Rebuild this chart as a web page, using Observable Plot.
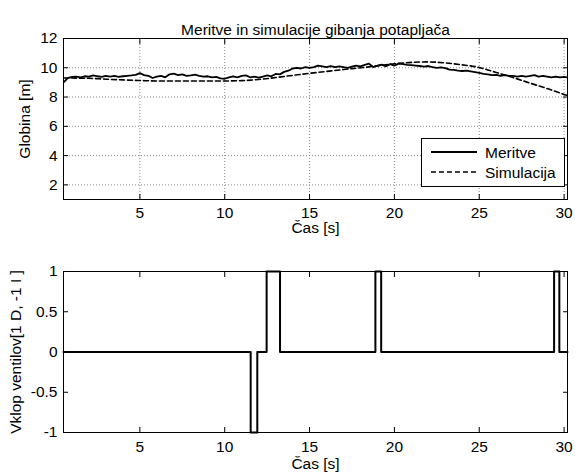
<!DOCTYPE html>
<html><head><meta charset="utf-8">
<script src="https://cdn.jsdelivr.net/npm/d3@7"></script>
<script src="https://cdn.jsdelivr.net/npm/@observablehq/plot@0.6"></script>
<style>
body{margin:0;background:#fff;}
#c{width:575px;}
svg{display:block}
#c svg text{font-size:15.5px !important; font-family:'Liberation Sans', Arial, Helvetica, sans-serif !important;}
</style>
</head><body><div id="c"></div>
<script>
const title = "Meritve in simulacije gibanja potapljača";
const xLabel = "Čas [s]";
const yLabelTop = "Globina [m]";
const yLabelBot = "Vklop ventilov[1 D, -1 I ]";
const legendLabels = ["Meritve", "Simulacija"];
const xTicks = [5, 10, 15, 20, 25, 30];
const yTicksTop = [2, 4, 6, 8, 10, 12];
const yTicksBot = [-1, -0.5, 0, 0.5, 1];

// measured depth, sampled every 0.25 s from 0.5 s
const measStart = 0.5, measStep = 0.25;
const meritve = [
  9.0, 9.3, 9.38,
  9.4, 9.35, 9.42, 9.4, 9.48, 9.42, 9.38, 9.45,
  9.4, 9.45, 9.38, 9.42, 9.45, 9.48, 9.52, 9.63,
  9.5, 9.45, 9.3, 9.4, 9.45, 9.35, 9.55, 9.6,
  9.5, 9.55, 9.45, 9.48, 9.53, 9.45, 9.4, 9.42,
  9.35, 9.38, 9.28, 9.25, 9.35, 9.42, 9.35, 9.45,
  9.48, 9.35, 9.4, 9.33, 9.4, 9.48, 9.42, 9.58,
  9.55, 9.72, 9.8, 9.95, 10.0, 9.95, 10.05, 10.0,
  10.05, 10.15, 10.1, 10.05, 10.12, 10.05, 10.1, 10.05,
  10.0, 10.08, 10.15, 10.1, 10.2, 10.28, 10.05, 10.15,
  10.22, 10.1, 10.25, 10.15, 10.28, 10.25, 10.2, 10.18,
  10.15, 10.12, 10.08, 10.12, 10.05, 10.0, 10.03, 9.98,
  9.88, 9.85, 9.8, 9.78, 9.8, 9.75, 9.7, 9.65,
  9.58, 9.55, 9.5, 9.52, 9.45, 9.5, 9.45, 9.45,
  9.4, 9.45, 9.4, 9.45, 9.5, 9.4, 9.45, 9.4,
  9.35, 9.4, 9.35, 9.38, 9.33
];
const simT = [0.5, 2, 3, 4, 5, 6, 7, 8, 9, 10, 11, 12, 13, 14, 15, 16, 17, 18, 19, 20, 21, 22, 23, 24, 25, 26, 27, 28, 29, 30, 30.2];
const simV = [9.3, 9.28, 9.22, 9.17, 9.13, 9.1, 9.1, 9.1, 9.1, 9.1, 9.12, 9.2, 9.33, 9.48, 9.62, 9.75, 9.88, 10.0, 10.13, 10.27, 10.37, 10.4, 10.33, 10.2, 10.02, 9.68, 9.33, 8.95, 8.58, 8.18, 8.1];
const pulseT = [0.5, 11.53, 11.92, 12.47, 13.26, 18.88, 19.22, 29.41, 29.72, 30.2];
const pulseV = [0, -1, 0, 1, 0, 1, 0, 1, 0, 0];

const measData = meritve.map((v, i) => ({t: measStart + i * measStep, v}));
const simData = simT.map((t, i) => ({t, v: simV[i]}));
const pulseData = pulseT.map((t, i) => ({t, v: pulseV[i]}));

const font = "'Liberation Sans', Arial, Helvetica, sans-serif";
const FS = 15.5;
const style = {fontFamily: font, fontSize: FS + "px", color: "black", background: "white", overflow: "visible"};
const xDomain = [0.5, 30.2];
const blank = () => "";

function boxAxes(yTicks, fmt, pad) {
  return [
    Plot.axisX(xTicks, {anchor: "bottom", tickSize: -5, tickPadding: pad, label: null, fontSize: FS}),
    Plot.axisX(xTicks, {anchor: "top", tickSize: -5, tickFormat: blank, label: null}),
    Plot.axisY(yTicks, {anchor: "left", tickSize: -5, tickPadding: 11, label: null, fontSize: FS, tickFormat: fmt}),
    Plot.axisY(yTicks, {anchor: "right", tickSize: -5, tickFormat: blank, label: null}),
  ];
}

const topChart = Plot.plot({
  width: 575, height: 240,
  marginLeft: 63, marginRight: 8, marginTop: 38, marginBottom: 41,
  style,
  x: {domain: xDomain},
  y: {domain: [1, 12]},
  marks: [
    Plot.gridX(xTicks, {stroke: "#888", strokeOpacity: 1, strokeDasharray: "1,2"}),
    Plot.gridY(yTicksTop, {stroke: "#888", strokeOpacity: 1, strokeDasharray: "1,2"}),
    Plot.line(simData, {x: "t", y: "v", stroke: "black", strokeWidth: 1.6, strokeDasharray: "5,3", curve: "monotone-x", clip: true}),
    Plot.line(measData, {x: "t", y: "v", stroke: "black", strokeWidth: 1.8, clip: true}),
    Plot.frame({stroke: "black"}),
    ...boxAxes(yTicksTop, d => String(d), 12),
    Plot.text([title], {frameAnchor: "top", dy: -15, fontSize: FS}),
    Plot.text([xLabel], {frameAnchor: "bottom", dy: 33, fontSize: FS}),
    Plot.text([yLabelTop], {frameAnchor: "left", textAnchor: "middle", rotate: -90, dx: -38, fontSize: FS}),
  ]
});

// legend box
const svg = d3.select(topChart);
const lg = svg.append("g").attr("font-family", font).attr("font-size", FS).attr("text-anchor", "start");
lg.append("rect").attr("x", 421.5).attr("y", 138.5).attr("width", 143).attr("height", 48)
  .attr("fill", "white").attr("stroke", "black");
lg.append("line").attr("x1", 431).attr("x2", 477).attr("y1", 152).attr("y2", 152).attr("stroke", "black").attr("stroke-width", 1.8);
lg.append("line").attr("x1", 431).attr("x2", 477).attr("y1", 172).attr("y2", 172).attr("stroke", "black").attr("stroke-width", 1.6).attr("stroke-dasharray", "5,3");
lg.append("text").attr("x", 485).attr("y", 158).text(legendLabels[0]);
lg.append("text").attr("x", 485).attr("y", 178).text(legendLabels[1]);

const botChart = Plot.plot({
  width: 575, height: 233,
  marginLeft: 63, marginRight: 8, marginTop: 31, marginBottom: 41,
  style,
  x: {domain: xDomain},
  y: {domain: [-1, 1]},
  marks: [
    Plot.frame({stroke: "black"}),
    Plot.line(pulseData, {x: "t", y: "v", stroke: "black", strokeWidth: 2, curve: "step-after"}),
    ...boxAxes(yTicksBot, d => String(d), 13),
    Plot.text([xLabel], {frameAnchor: "bottom", dy: 36, fontSize: FS}),
    Plot.text([yLabelBot], {frameAnchor: "left", textAnchor: "middle", rotate: -90, dx: -47, fontSize: FS}),
  ]
});

const c = document.getElementById("c");
c.append(topChart);
c.append(botChart);
</script>
</body></html>
